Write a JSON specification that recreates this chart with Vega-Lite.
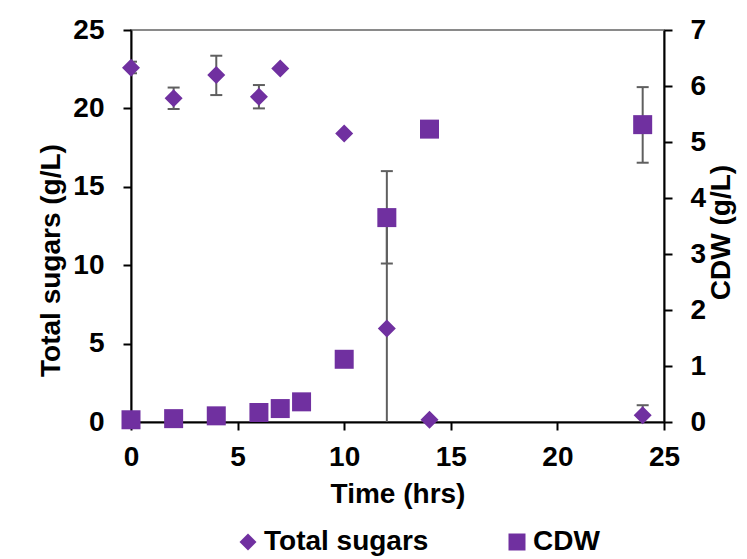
{
  "$schema": "https://vega.github.io/schema/vega-lite/v6.json",
  "width": 533,
  "height": 392,
  "autosize": {"type": "none"},
  "padding": {"left": 131, "top": 30, "right": 83, "bottom": 137},
  "background": "white",
  "datasets": {
    "sugars": [
      {"t": 0, "v": 22.6, "lo": 22.24, "hi": 22.98},
      {"t": 2, "v": 20.64, "lo": 19.96, "hi": 21.33},
      {"t": 4, "v": 22.13, "lo": 20.85, "hi": 23.36},
      {"t": 6, "v": 20.74, "lo": 20.0, "hi": 21.49},
      {"t": 7, "v": 22.55, "lo": null, "hi": null},
      {"t": 10, "v": 18.4, "lo": null, "hi": null},
      {"t": 12, "v": 5.96, "lo": -0.5, "hi": 12.7},
      {"t": 14, "v": 0.15, "lo": null, "hi": null},
      {"t": 24, "v": 0.43, "lo": -0.2, "hi": 1.07}
    ],
    "cdw": [
      {"t": 0, "v": 0.04, "lo": null, "hi": null},
      {"t": 2, "v": 0.06, "lo": null, "hi": null},
      {"t": 4, "v": 0.11, "lo": null, "hi": null},
      {"t": 6, "v": 0.17, "lo": null, "hi": null},
      {"t": 7, "v": 0.24, "lo": null, "hi": null},
      {"t": 8, "v": 0.36, "lo": null, "hi": null},
      {"t": 10, "v": 1.12, "lo": null, "hi": null},
      {"t": 12, "v": 3.65, "lo": 2.83, "hi": 4.48},
      {"t": 14, "v": 5.23, "lo": null, "hi": null},
      {"t": 24, "v": 5.31, "lo": 4.63, "hi": 5.98}
    ]
  },
  "config": {
    "font": "Liberation Sans",
    "view": {"stroke": "#8a8a8a", "strokeWidth": 2},
    "axis": {
      "grid": false,
      "labelFlush": false,
      "labelOverlap": false,
      "domainColor": "black",
      "domainWidth": 2,
      "tickColor": "black",
      "tickWidth": 2,
      "tickSize": 8,
      "labelFont": "Liberation Sans",
      "labelFontSize": 28,
      "labelFontWeight": "bold",
      "labelColor": "black",
      "titleFont": "Liberation Sans",
      "titleFontSize": 28,
      "titleFontWeight": "bold",
      "titleColor": "black"
    },
    "legend": {
      "labelFont": "Liberation Sans",
      "labelFontSize": 28,
      "labelFontWeight": "bold",
      "labelColor": "black",
      "labelLimit": 0
    }
  },
  "encoding": {
    "x": {
      "field": "t",
      "type": "quantitative",
      "scale": {"domain": [0, 25], "nice": false},
      "axis": {
        "values": [0, 5, 10, 15, 20, 25],
        "title": "Time (hrs)",
        "labelPadding": 13,
        "titleY": 72,
        "titleBaseline": "middle"
      }
    }
  },
  "layer": [
    {
      "data": {"name": "sugars"},
      "encoding": {
        "y": {
          "type": "quantitative",
          "scale": {"domain": [0, 25], "nice": false},
          "axis": {
            "orient": "left",
            "values": [0, 5, 10, 15, 20, 25],
            "title": "Total sugars (g/L)",
            "labelPadding": 19,
            "titleX": -80,
            "titleY": 230,
            "titleAlign": "center",
            "titleBaseline": "middle"
          }
        }
      },
      "layer": [
        {
          "mark": {"type": "rule", "color": "#5f5f5f", "strokeWidth": 2, "clip": true},
          "encoding": {"y": {"field": "lo"}, "y2": {"field": "hi"}}
        },
        {
          "mark": {"type": "tick", "orient": "horizontal", "color": "#5f5f5f", "size": 12, "thickness": 2, "clip": true, "opacity": 1},
          "encoding": {"y": {"field": "lo"}}
        },
        {
          "mark": {"type": "tick", "orient": "horizontal", "color": "#5f5f5f", "size": 12, "thickness": 2, "clip": true, "opacity": 1},
          "encoding": {"y": {"field": "hi"}}
        },
        {
          "mark": {"type": "point", "filled": true, "color": "#7030A0", "opacity": 1, "size": 324},
          "encoding": {
            "y": {"field": "v"},
            "shape": {
              "datum": "Total sugars",
              "scale": {"domain": ["Total sugars", "CDW"], "range": ["diamond", "square"]},
              "legend": {
                "title": null,
                "orient": "none",
                "direction": "horizontal",
                "legendX": 103,
                "legendY": 498,
                "padding": 0,
                "symbolSize": 289,
                "symbolFillColor": "#7030A0",
                "symbolStrokeWidth": 0,
                "symbolOpacity": 1,
                "labelOffset": 2,
                "columnPadding": 74
              }
            }
          }
        }
      ]
    },
    {
      "data": {"name": "cdw"},
      "encoding": {
        "y": {
          "type": "quantitative",
          "scale": {"domain": [0, 7], "nice": false},
          "axis": {
            "orient": "right",
            "values": [0, 1, 2, 3, 4, 5, 6, 7],
            "title": "CDW (g/L)",
            "labelPadding": 18,
            "titleAngle": -90,
            "titleX": 57,
            "titleY": 202,
            "titleAlign": "center",
            "titleBaseline": "middle"
          }
        }
      },
      "layer": [
        {
          "mark": {"type": "rule", "color": "#5f5f5f", "strokeWidth": 2, "clip": true},
          "encoding": {"y": {"field": "lo"}, "y2": {"field": "hi"}}
        },
        {
          "mark": {"type": "tick", "orient": "horizontal", "color": "#5f5f5f", "size": 12, "thickness": 2, "clip": true, "opacity": 1},
          "encoding": {"y": {"field": "lo"}}
        },
        {
          "mark": {"type": "tick", "orient": "horizontal", "color": "#5f5f5f", "size": 12, "thickness": 2, "clip": true, "opacity": 1},
          "encoding": {"y": {"field": "hi"}}
        },
        {
          "mark": {"type": "point", "filled": true, "color": "#7030A0", "opacity": 1, "size": 361},
          "encoding": {
            "y": {"field": "v"},
            "shape": {"datum": "CDW"}
          }
        }
      ]
    }
  ],
  "resolve": {"scale": {"y": "independent"}}
}
